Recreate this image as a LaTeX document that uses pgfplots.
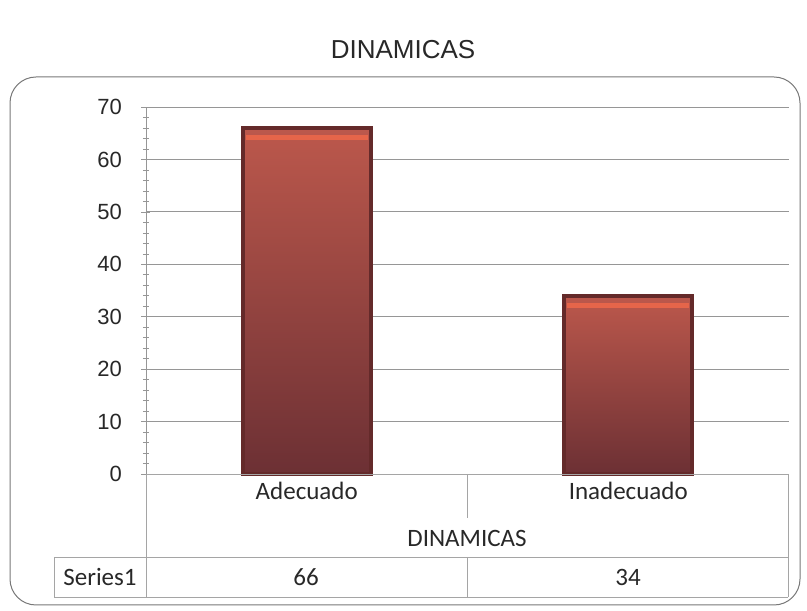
\documentclass[border=0pt]{standalone}
\usepackage{pgfplots}
\pgfplotsset{compat=1.18}
\usepackage{fontspec}
\setmainfont{Liberation Sans}
\newfontfamily\calibri{Carlito}
\definecolor{bartop}{RGB}{188,88,76}
\definecolor{barbot}{RGB}{108,48,52}
\definecolor{baredge}{RGB}{100,42,42}
\definecolor{barhi}{RGB}{238,104,74}
\definecolor{gridc}{RGB}{150,150,150}
\definecolor{framec}{RGB}{120,120,120}
\definecolor{tabc}{RGB}{165,165,165}
\definecolor{txtc}{RGB}{40,40,40}
\begin{document}
\begin{tikzpicture}[x=1pt,y=1pt]
\path[use as bounding box] (0,0) rectangle (807,611);
% frame
\draw[framec, line width=1pt, rounded corners=26pt] (10,6) rectangle (800,534);
% title
\node[font=\fontsize{26}{31}\selectfont, text=txtc] at (403,561) {DINAMICAS};
\begin{axis}[
  at={(146pt,137pt)}, anchor=south west,
  scale only axis, width=643pt, height=367pt,
  xmin=0, xmax=2, ymin=0, ymax=70,
  ytick={0,10,...,70}, minor y tick num=4,
  xtick={0.5,1.5}, xticklabels={Adecuado,Inadecuado},
  x tick label style={font=\calibri\fontsize{25}{30}\selectfont, text=txtc, yshift=4pt},
  y tick label style={font=\fontsize{22}{26}\selectfont, text=txtc, xshift=-16pt},
  /pgf/number format/assume math mode=true,
  axis x line*=bottom, axis y line*=left,
  x axis line style={draw opacity=0},
  y axis line style={gridc, line width=0.8pt},
  xtick style={draw=none},
  ymajorgrids, grid style={gridc, line width=0.8pt},
  tick align=center, major tick length=9pt, minor tick length=6pt,
  ytick style={gridc, line width=0.6pt},
  ybar, bar width=128pt, bar shift=0pt,
  clip=false,
]
\addplot[draw=baredge, line width=4pt, top color=bartop, bottom color=barbot]
  coordinates {(0.5,66)};
\addplot[draw=baredge, line width=4pt, top color=bartop, bottom color=barbot]
  coordinates {(1.5,34)};
\addplot[sharp plot, barhi, line width=5pt, opacity=0.85] coordinates {(0.31,64.2) (0.69,64.2)};
\addplot[sharp plot, barhi, line width=5pt, opacity=0.85] coordinates {(1.31,32.2) (1.69,32.2)};
\end{axis}
% data table
\begin{scope}[tabc, line width=0.8pt]
\draw (146,137) -- (788,137);
\draw (146,137) -- (146,14);
\draw (788,137) -- (788,14);
\draw (467,137) -- (467,93);
\draw (467,54) -- (467,14);
\draw (54,54) -- (788,54);
\draw (54,14) -- (788,14);
\draw (54,54) -- (54,14);
\end{scope}
\node[font=\calibri\fontsize{25}{30}\selectfont, text=txtc] at (467,73) {DINAMICAS};
\node[font=\calibri\fontsize{25}{30}\selectfont, text=txtc] at (100,34) {Series1};
\node[font=\calibri\fontsize{25}{30}\selectfont, text=txtc] at (306,34) {66};
\node[font=\calibri\fontsize{25}{30}\selectfont, text=txtc] at (628,34) {34};
\end{tikzpicture}
\end{document}
